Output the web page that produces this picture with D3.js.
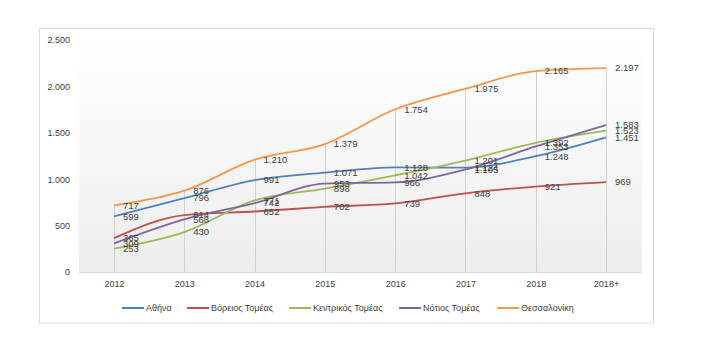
<!DOCTYPE html>
<html><head><meta charset="utf-8">
<script src="https://cdn.jsdelivr.net/npm/d3@7"></script>
<style>body{margin:0;background:#fff}svg{display:block}text{font-family:"Liberation Sans",Arial,sans-serif;fill:#404040}</style>
</head><body><svg id="c" width="704" height="358"></svg>
<script>
const categories = ["2012","2013","2014","2015","2016","2017","2018","2018+"];
const seriesNames = ["Αθήνα","Βόρειος Τομέας","Κεντρικός Τομέας","Νότιος Τομέας","Θεσσαλονίκη"];
const athina = [599,796,991,1071,1128,1124,1248,1451];
const voreios = [365,614,652,702,739,848,921,969];
const kentrikos = [253,430,771,898,1042,1201,1392,1523];
const notios = [309,568,742,953,966,1105,1353,1583];
const thessaloniki = [717,876,1210,1379,1754,1975,2165,2197];
const yTicks = [0,500,1000,1500,2000,2500];
const colors = ["#4F81BD","#C0504D","#9BBB59","#8064A2","#F79646"];
const seriesValues = [athina,voreios,kentrikos,notios,thessaloniki];

const svg = d3.select("#c");
const fmt = v => d3.format(",")(v).replace(/,/g,".");

svg.append("rect").attr("x",39.5).attr("y",28.5).attr("width",614).attr("height",294.5)
  .attr("fill","#fff").attr("stroke","#d9d9d9");

const x = d3.scalePoint().domain(categories).range([114,606]).padding(0);
const y = d3.scaleLinear().domain([0,2500]).range([272,40]);

const defs = svg.append("defs");
const g = defs.append("linearGradient").attr("id","bg").attr("x1",0).attr("y1",0).attr("x2",0).attr("y2",1);
g.append("stop").attr("offset","0%").attr("stop-color","#ffffff");
g.append("stop").attr("offset","100%").attr("stop-color","#ededed");
svg.append("rect").attr("x",79).attr("y",40).attr("width",563).attr("height",232).attr("fill","url(#bg)");

const yAxis = d3.axisLeft(y).tickValues(yTicks).tickSize(0).tickPadding(0).tickFormat(fmt);
const ya = svg.append("g").attr("transform","translate(70,0)").call(yAxis);
ya.select(".domain").remove();
ya.selectAll("text").attr("font-size","9px").attr("fill","#404040").attr("dy","0.32em");

const xAxis = d3.axisBottom(x).tickSize(0).tickPadding(9);
const xa = svg.append("g").attr("transform","translate(0,272)").call(xAxis);
xa.select(".domain").attr("stroke","#d9d9d9").attr("d","M79,0.5H642");
xa.selectAll("text").attr("font-size","9px").attr("fill","#404040");

categories.forEach((c,i)=>{
  const mx = d3.max(seriesValues, s=>s[i]);
  svg.append("line").attr("x1",Math.round(x(c))+0.5).attr("x2",Math.round(x(c))+0.5)
    .attr("y1",y(mx)).attr("y2",272).attr("stroke","#d0d0d0").attr("stroke-width",1);
});

const line = d3.line().x((d,i)=>x(categories[i])).y(d=>y(d)).curve(d3.curveMonotoneX);
seriesValues.forEach((s,k)=>{
  svg.append("path").attr("d",line(s)).attr("fill","none").attr("stroke",colors[k]).attr("stroke-width",1.8);
});
seriesValues.forEach((s,k)=>{
  svg.append("g").selectAll("text").data(s).join("text")
    .attr("x",(d,i)=>x(categories[i])+9).attr("y",d=>y(d)).attr("dy","0.35em")
    .attr("font-size","9.5px").attr("fill","#404040").text(d=>fmt(d));
});

const legX = [122,187,289,399,497];
seriesNames.forEach((n,k)=>{
  const lg = svg.append("g");
  lg.append("line").attr("x1",legX[k]).attr("x2",legX[k]+22).attr("y1",308).attr("y2",308)
    .attr("stroke",colors[k]).attr("stroke-width",2);
  lg.append("text").attr("x",legX[k]+24).attr("y",308).attr("dy","0.35em").attr("font-size","9px").text(n);
});
</script></body></html>
